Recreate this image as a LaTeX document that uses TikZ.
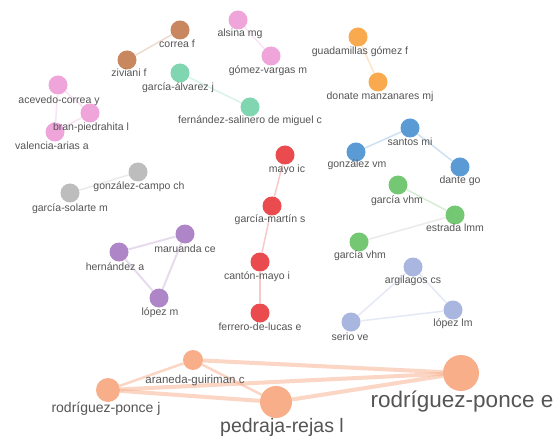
\documentclass[tikz,border=0pt]{standalone}
\usepackage{fontspec}
\setmainfont{Liberation Sans}
\usetikzlibrary{positioning}
\definecolor{brwn}{HTML}{C8875E}
\definecolor{pnk}{HTML}{F0A5DA}
\definecolor{orng}{HTML}{F9A94E}
\definecolor{teal}{HTML}{80D6B1}
\definecolor{gry}{HTML}{BDBDBD}
\definecolor{purp}{HTML}{AE86C8}
\definecolor{rd}{HTML}{E94B4E}
\definecolor{blu}{HTML}{5B9BD5}
\definecolor{grn}{HTML}{74C874}
\definecolor{lav}{HTML}{A8B6E0}
\definecolor{salm}{HTML}{F9AE8A}
\definecolor{txt}{HTML}{555555}

\tikzset{
  author/.style={circle, fill=#1, minimum size=19pt, inner sep=0pt},
  lbl/.style={text=txt, font=\fontsize{10.5}{12}\selectfont, inner sep=0pt},
  tie/.style={#1!30, line width=1.5pt},
}

\begin{document}
\begin{tikzpicture}[x=1pt, y=-1pt]

% Background
\fill[white] (0,0) rectangle (556,438);
\useasboundingbox (0,0) rectangle (556,438);

% === Authors (circles) ===
\node[author=brwn] (correa) at (180,30) {};
\node[author=brwn] (ziviani) at (127,60) {};
\node[author=pnk] (alsina) at (238,20) {};
\node[author=pnk] (gomezv) at (271,56) {};
\node[author=orng] (guadam) at (358,37) {};
\node[author=orng] (donate) at (378,82) {};
\node[author=teal] (galvarez) at (180,73) {};
\node[author=teal] (fsalinero) at (250,107) {};
\node[author=pnk] (acevedo) at (58,85) {};
\node[author=pnk] (bran) at (90,113) {};
\node[author=pnk] (valencia) at (55,132) {};
\node[author=gry] (gcampo) at (138,172) {};
\node[author=gry] (gsolarte) at (70,193) {};
\node[author=purp] (maruanda) at (185,234) {};
\node[author=purp] (hernandez) at (119,252) {};
\node[author=purp] (lopezm) at (159,298) {};
\node[author=rd] (mayo) at (285,155) {};
\node[author=rd] (gmartin) at (272,206) {};
\node[author=rd] (canton) at (260,262) {};
\node[author=rd] (ferrero) at (260,313) {};
\node[author=blu] (santos) at (410,128) {};
\node[author=blu] (gvm) at (356,152) {};
\node[author=blu] (dante) at (460,167) {};
\node[author=grn] (gvhmA) at (398,185) {};
\node[author=grn] (estrada) at (455,215) {};
\node[author=grn] (gvhmB) at (359,242) {};
\node[author=lav] (argilagos) at (413,267) {};
\node[author=lav] (lopezlm) at (453,310) {};
\node[author=lav] (serio) at (351,322) {};

% big cluster
\node[author=salm, minimum size=20pt] (araneda) at (193,360) {};
\node[author=salm, minimum size=24pt] (rpj) at (108,390) {};
\node[author=salm, minimum size=32pt] (pedraja) at (276,402) {};
\node[author=salm, minimum size=36pt] (rpe) at (461,373) {};

% === Co-authorship links ===
\draw[tie=brwn] (correa) -- (ziviani);
\draw[tie=pnk] (alsina) -- (gomezv);
\draw[tie=orng] (guadam) -- (donate);
\draw[tie=teal] (galvarez) -- (fsalinero);
\draw[tie=pnk] (acevedo) -- (valencia);
\draw[tie=pnk] (bran) -- (valencia);
\draw[tie=pnk] (acevedo) -- (bran);
\draw[tie=gry] (gcampo) -- (gsolarte);
\draw[tie=purp, line width=2pt] (maruanda) -- (hernandez);
\draw[tie=purp, line width=2pt] (maruanda) -- (lopezm);
\draw[tie=purp, line width=2pt] (hernandez) -- (lopezm);
\draw[tie=rd] (mayo) -- (gmartin);
\draw[tie=rd] (gmartin) -- (canton);
\draw[tie=rd] (canton) -- (ferrero);
\draw[tie=blu] (santos) -- (gvm);
\draw[tie=blu] (santos) -- (dante);
\draw[tie=grn] (gvhmA) -- (estrada);
\draw[tie=gry] (estrada) -- (gvhmB);
\draw[tie=lav] (argilagos) -- (serio);
\draw[tie=lav] (argilagos) -- (lopezlm);
\draw[tie=lav] (serio) -- (lopezlm);

% salmon links, thicker
\draw[salm, opacity=0.5, line width=4pt] (araneda) -- (rpe);
\draw[salm, opacity=0.5, line width=4pt] (rpj) -- (rpe);
\draw[salm, opacity=0.5, line width=4pt] (pedraja) -- (rpe);
\draw[salm, opacity=0.5, line width=4pt] (rpj) -- (pedraja);
\draw[salm, opacity=0.5, line width=2.5pt] (araneda) -- (pedraja);
\draw[salm, opacity=0.5, line width=2.5pt] (araneda) -- (rpj);

% === Names ===
\node[lbl] (correaT) at (177,44) {correa f};
\node[lbl] (zivianiT) at (129,73) {ziviani f};
\node[lbl] (alsinaT) at (240,34) {alsina mg};
\node[lbl] (gomezvT) at (268,71) {gómez-vargas m};
\node[lbl] (guadamT) at (360,52) {guadamillas gómez f};
\node[lbl] (donateT) at (380,97) {donate manzanares mj};
\node[lbl] (galvarezT) at (178,88) {garcía-álvarez j};
\node[lbl] (fsalineroT) at (250,121) {fernández-salinero de miguel c};
\node[lbl] (acevedoT) at (59,101) {acevedo-correa y};
\node[lbl] (branT) at (91,128) {bran-piedrahita l};
\node[lbl] (valenciaT) at (52,146) {valencia-arias a};
\node[lbl] (gcampoT) at (139,187) {gonzález-campo ch};
\node[lbl] (gsolarteT) at (70,209) {garcía-solarte m};
\node[lbl] (maruandaT) at (185,249) {maruanda ce};
\node[lbl] (hernandezT) at (115,267) {hernández a};
\node[lbl] (lopezmT) at (160,313) {lópez m};
\node[lbl] (mayoT) at (287,170) {mayo ic};
\node[lbl] (gmartinT) at (270,220) {garcía-martín s};
\node[lbl] (cantonT) at (257,277) {cantón-mayo i};
\node[lbl] (ferreroT) at (260,327) {ferrero-de-lucas e};
\node[lbl] (santosT) at (410,142) {santos mi};
\node[lbl] (gvmT) at (357,165) {gonzález vm};
\node[lbl] (danteT) at (460,181) {dante go};
\node[lbl] (gvhmAT) at (397,201) {garcía vhm};
\node[lbl] (estradaT) at (455,228) {estrada lmm};
\node[lbl] (gvhmBT) at (360,256) {garcía vhm};
\node[lbl] (argilagosT) at (413,281) {argilagos cs};
\node[lbl] (lopezlmT) at (453,324) {lópez lm};
\node[lbl] (serioT) at (350,337) {serio ve};

\node[lbl, font=\fontsize{11.5}{13}\selectfont] (aranedaT) at (195,381) {araneda-guiriman c};
\node[lbl, font=\fontsize{14}{16}\selectfont] (rpjT) at (106,409) {rodríguez-ponce j};
\node[lbl, font=\fontsize{19.5}{22}\selectfont] (pedrajaT) at (282,427) {pedraja-rejas l};
\node[lbl, font=\fontsize{22.5}{25}\selectfont] (rpeT) at (462,402) {rodríguez-ponce e};

\end{tikzpicture}
\end{document}
